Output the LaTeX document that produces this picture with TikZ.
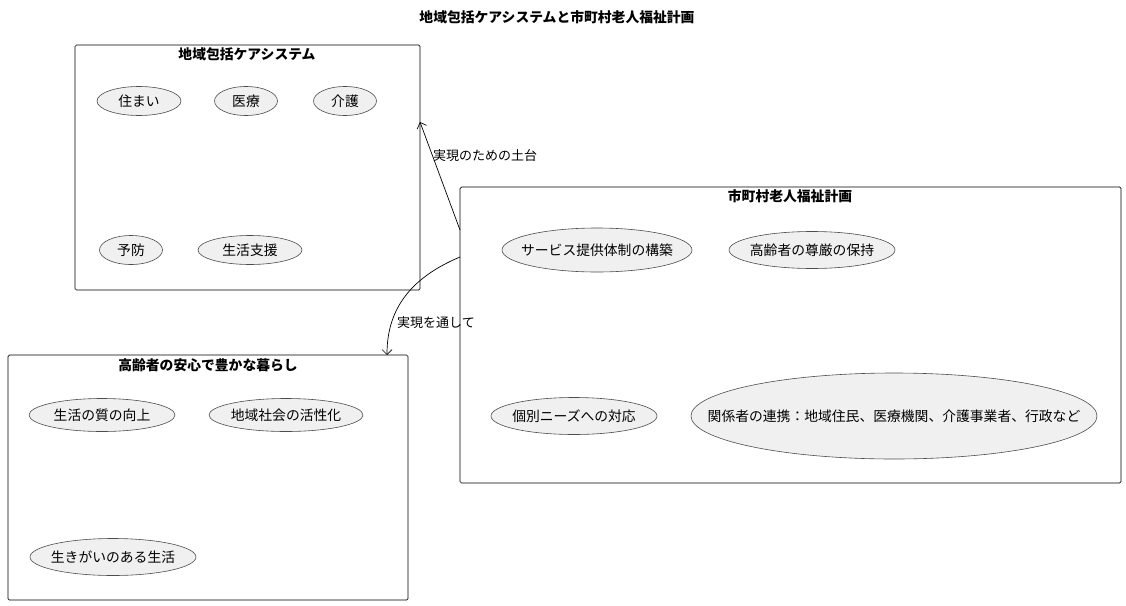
\documentclass[tikz,border=0pt]{standalone}
\usepackage{fontspec}
\setmainfont{Noto Sans CJK JP}
\usetikzlibrary{arrows.meta}
\newcommand{\usecase}[6]{% name, x, y, w, h, text
  \draw[ucline] (#2,#3) ellipse ({#4/2} and {#5/2});
  \node[uctext] (#1) at (#2,#3) {#6};}
\begin{document}
\begin{tikzpicture}[x=1pt,y=-1pt,
    grp/.style={draw, rounded corners=1.5pt, line width=0.7pt},
    gtitle/.style={font=\fontsize{13.8}{15}\selectfont\bfseries},
    ucline/.style={draw=black!70, fill=black!6, line width=0.6pt},
    uctext/.style={inner sep=0pt, font=\fontsize{13.8}{15}\selectfont},
    arrow/.style={-{Straight Barb[length=5pt]}, line width=0.7pt},
    lbl/.style={font=\fontsize{13}{14}\selectfont, anchor=west, inner sep=0pt}]
    \useasboundingbox (0,0) rectangle (1126,605);
    \node[gtitle] (title) at (557,17) {地域包括ケアシステムと市町村老人福祉計画};
    % groups
    \draw[grp] (75,45) rectangle (420,290);
    \node[gtitle] (careT) at (247,54) {地域包括ケアシステム};
    \draw[grp] (460,187) rectangle (1121,483);
    \node[gtitle] (planT) at (790,196) {市町村老人福祉計画};
    \draw[grp] (8,355) rectangle (408,600);
    \node[gtitle] (lifeT) at (208,365) {高齢者の安心で豊かな暮らし};
    \coordinate (careE) at (420,122);
    \coordinate (lifeE) at (387,355);
    \coordinate (planA) at (460,230);
    \coordinate (planB) at (460,257);
    % use cases
    \usecase{sumai}{139}{101}{84}{29}{住まい}
    \usecase{iryo}{246}{101}{63}{29}{医療}
    \usecase{kaigo}{345}{101}{63}{29}{介護}
    \usecase{yobo}{131}{250}{63}{29}{予防}
    \usecase{shien}{250}{250}{104}{29}{生活支援}
    \usecase{service}{597}{250}{190}{44}{サービス提供体制の構築}
    \usecase{songen}{812}{250}{166}{37}{高齢者の尊厳の保持}
    \usecase{needs}{574}{416}{166}{37}{個別ニーズへの対応}
    \usecase{renkei}{894}{416}{406}{86}{関係者の連携：地域住民、医療機関、介護事業者、行政など}
    \usecase{qol}{102}{415}{146}{33}{生活の質の向上}
    \usecase{chiiki}{286}{415}{154}{33}{地域社会の活性化}
    \usecase{ikigai}{113}{557}{166}{37}{生きがいのある生活}
    % connectors
    \draw[arrow] (planA) -- (careE);
    \node[lbl] (l1) at (433,156) {実現のための土台};
    \draw[arrow] (planB) .. controls (400,282) and (387,320) .. (lifeE);
    \node[lbl] (l2) at (397,323) {実現を通して};
\end{tikzpicture}
\end{document}
